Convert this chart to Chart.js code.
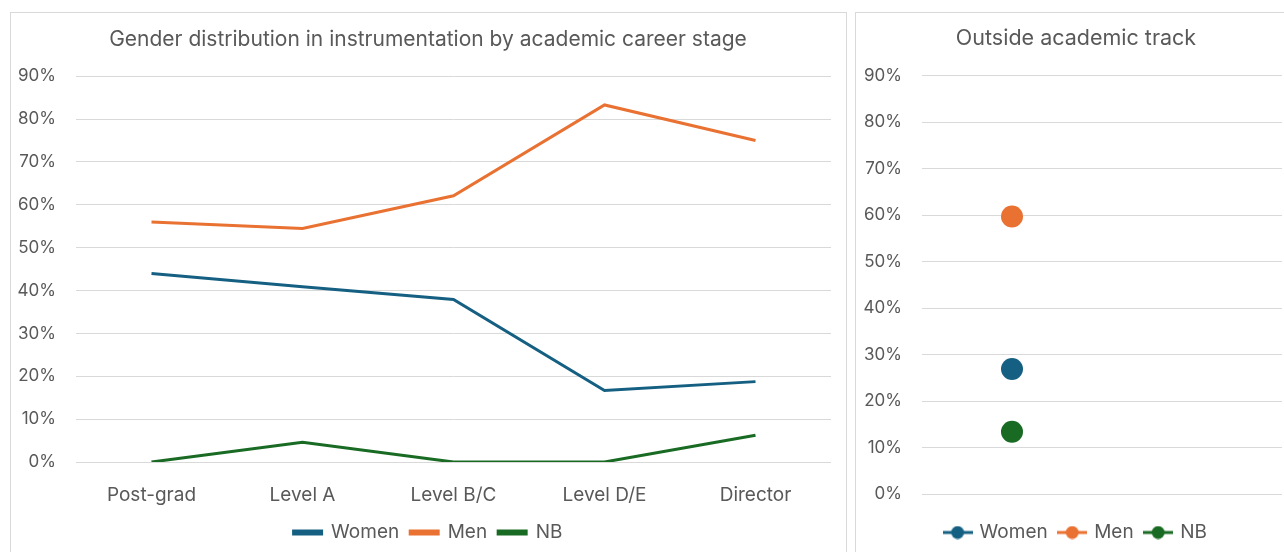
<!DOCTYPE html>
<html>
<head>
<meta charset="utf-8">
<script src="https://cdn.jsdelivr.net/npm/chart.js@4"></script>
<style>
  body { margin: 0; background: #fff; overflow: hidden; width: 1284px; height: 552px; }
  .frame { position: absolute; border: 1px solid #d9d9d9; box-sizing: border-box; }
  .box { position: absolute; }
</style>
</head>
<body>
<div class="frame" style="left:10px;top:12px;width:837px;height:600px;"></div>
<div class="frame" style="left:855px;top:12px;width:445px;height:600px;"></div>
<div class="box" style="left:10px;top:12px;width:836px;height:540px;"><canvas id="careerChart"></canvas></div>
<div class="box" style="left:856px;top:12px;width:440px;height:540px;"><canvas id="outsideChart"></canvas></div>
<script>
// values, in percent
const stages = ["Post-grad", "Level A", "Level B/C", "Level D/E", "Director"];
const women = [44, 40.9, 37.9, 16.7, 18.75];
const men = [56, 54.5, 62.1, 83.3, 75];
const nb = [0, 4.6, 0, 0, 6.25];

const outsideLabels = ["", ""];
const outsideWomen = [26.9, null];
const outsideMen = [59.7, null];
const outsideNb = [13.4, null];

const yTicks = [0, 10, 20, 30, 40, 50, 60, 70, 80, 90];

const BLUE = "#156082", ORANGE = "#E97132", GREEN = "#196B24";
const TEXT = "#595959", GRID = "#d9d9d9";

Chart.defaults.font.family = "Inter";
Chart.defaults.color = TEXT;

function yScale(width) {
  return {
    min: 0, max: 90,
    afterFit: s => { s.width = width; },
    afterBuildTicks: s => { s.ticks = yTicks.map(v => ({ value: v })); },
    ticks: { padding: 20, font: { size: 17 }, color: TEXT, callback: v => v + "%" },
    grid: { color: GRID, lineWidth: 1, drawTicks: false },
    border: { display: false }
  };
}

// empty axis on the right, keeps the plot off the frame while the title stays centred
function spacer(width) {
  return {
    position: "right", display: true,
    afterFit: s => { s.width = width; },
    ticks: { display: false }, grid: { display: false, drawTicks: false }, border: { display: false }
  };
}

function lineSet(label, data, color) {
  return { label, data, borderColor: color, backgroundColor: color, borderWidth: 3, pointRadius: 0, tension: 0 };
}

new Chart(document.getElementById("careerChart"), {
  type: "line",
  data: {
    labels: stages,
    datasets: [lineSet("Women", women, BLUE), lineSet("Men", men, ORANGE), lineSet("NB", nb, GREEN)]
  },
  options: {
    responsive: true, maintainAspectRatio: false, animation: false,
    layout: { padding: 0 },
    plugins: {
      title: {
        display: true, text: "Gender distribution in instrumentation by academic career stage",
        font: { size: 21, weight: "normal" }, color: TEXT, padding: { top: 15, bottom: 24 }
      },
      legend: {
        position: "bottom",
        labels: { boxWidth: 28, boxHeight: 3, padding: 11, font: { size: 19 }, color: TEXT }
      },
      tooltip: { enabled: false }
    },
    scales: {
      x: {
        offset: true,
        afterFit: s => { s.height = 50; },
        ticks: { padding: 22, font: { size: 19 }, color: TEXT },
        grid: { display: false, drawTicks: false },
        border: { display: false }
      },
      y: yScale(66),
      pad: spacer(15)
    }
  }
});

// legend marker: short line with a dot on it
function marker(color) {
  const c = document.createElement("canvas");
  c.width = 30; c.height = 14;
  const ctx = c.getContext("2d");
  ctx.strokeStyle = color; ctx.lineWidth = 3;
  ctx.beginPath(); ctx.moveTo(0, 7); ctx.lineTo(30, 7); ctx.stroke();
  ctx.fillStyle = color;
  ctx.beginPath(); ctx.arc(15, 7, 6.5, 0, Math.PI * 2); ctx.fill();
  return c;
}

function dotSet(label, data, color) {
  return { label, data, borderColor: color, backgroundColor: color, showLine: false, pointRadius: 11, pointHoverRadius: 11, borderWidth: 0 };
}

new Chart(document.getElementById("outsideChart"), {
  type: "line",
  data: {
    labels: outsideLabels,
    datasets: [dotSet("Women", outsideWomen, BLUE), dotSet("Men", outsideMen, ORANGE), dotSet("NB", outsideNb, GREEN)]
  },
  options: {
    responsive: true, maintainAspectRatio: false, animation: false,
    layout: { padding: 0 },
    plugins: {
      title: {
        display: true, text: "Outside academic track",
        font: { size: 21.5, weight: "normal" }, color: TEXT, padding: { top: 14, bottom: 24 }
      },
      legend: {
        position: "bottom",
        labels: {
          usePointStyle: true, pointStyleWidth: 25, padding: 12, font: { size: 19 }, color: TEXT,
          generateLabels: chart => chart.data.datasets.map((ds, i) => ({
            text: ds.label, pointStyle: marker(ds.borderColor), fontColor: TEXT,
            strokeStyle: ds.borderColor, fillStyle: ds.borderColor, lineWidth: 0, datasetIndex: i
          }))
        }
      },
      tooltip: { enabled: false }
    },
    scales: {
      x: {
        offset: true,
        afterFit: s => { s.height = 17; },
        ticks: { display: false },
        grid: { display: false, drawTicks: false },
        border: { display: false }
      },
      y: yScale(66),
      pad: spacer(14)
    }
  }
});
</script>
</body>
</html>
